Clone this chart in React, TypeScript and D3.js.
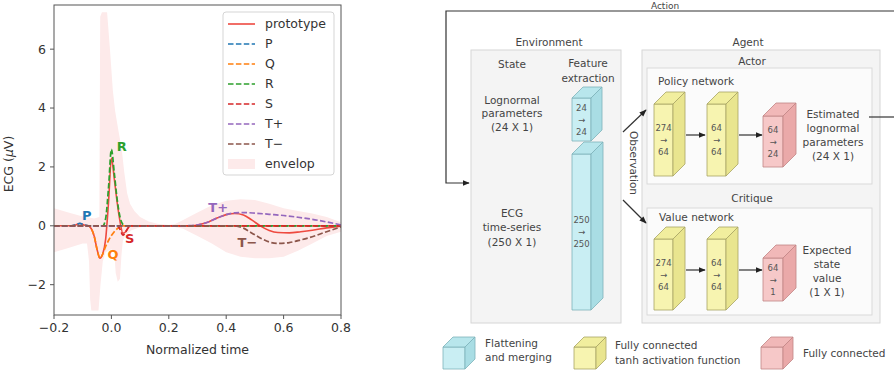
import * as d3 from "d3";

// ---- chart data ----
const xTicks = [-0.2, 0, 0.2, 0.4, 0.6, 0.8];
const yTicks = [-2, 0, 2, 4, 6];

type Pt = [number, number];

const prototypeCurve: Pt[] = [
  [-0.2, 0], [-0.14, 0], [-0.125, 0.03], [-0.11, 0.08], [-0.095, 0.03], [-0.08, 0],
  [-0.07, -0.1], [-0.06, -0.35], [-0.05, -0.8], [-0.04, -1.1], [-0.03, -0.95],
  [-0.02, -0.45], [-0.01, 0.8], [0, 2.3], [0.01, 1.6], [0.02, 0.8], [0.03, 0.15],
  [0.04, -0.25], [0.05, -0.2], [0.06, -0.05], [0.07, 0], [0.28, 0], [0.31, 0.05],
  [0.34, 0.14], [0.37, 0.27], [0.4, 0.38], [0.43, 0.42], [0.46, 0.37], [0.49, 0.19],
  [0.52, -0.01], [0.55, -0.16], [0.58, -0.23], [0.62, -0.24], [0.66, -0.2],
  [0.7, -0.15], [0.75, -0.07], [0.8, -0.01],
];
const pWave: Pt[] = [
  [-0.2, 0], [-0.14, 0], [-0.125, 0.03], [-0.11, 0.08], [-0.095, 0.03], [-0.08, 0], [0.8, 0],
];
const qWave: Pt[] = [
  [-0.2, 0], [-0.08, 0], [-0.07, -0.1], [-0.06, -0.35], [-0.05, -0.8], [-0.04, -1.1],
  [-0.03, -0.95], [-0.02, -0.7], [-0.01, -0.5], [0, -0.33], [0.01, -0.2], [0.02, -0.1],
  [0.03, -0.03], [0.04, 0], [0.8, 0],
];
const rWave: Pt[] = [
  [-0.2, 0], [-0.03, 0], [-0.02, 0.25], [-0.01, 1.3], [0, 2.6], [0.01, 1.8],
  [0.02, 0.9], [0.03, 0.3], [0.04, 0.05], [0.05, 0], [0.8, 0],
];
const sWave: Pt[] = [
  [-0.2, 0], [0.02, 0], [0.03, -0.12], [0.04, -0.32], [0.05, -0.2], [0.06, -0.05], [0.07, 0], [0.8, 0],
];
const tPlusWave: Pt[] = [
  [-0.2, 0], [0.25, 0], [0.28, 0.01], [0.31, 0.05], [0.34, 0.14], [0.37, 0.27], [0.4, 0.38],
  [0.43, 0.44], [0.46, 0.45], [0.5, 0.43], [0.55, 0.39], [0.6, 0.35], [0.65, 0.29],
  [0.7, 0.22], [0.75, 0.13], [0.8, 0.03],
];
const tMinusWave: Pt[] = [
  [-0.2, 0], [0.43, 0], [0.46, -0.08], [0.49, -0.25], [0.52, -0.42], [0.55, -0.55],
  [0.58, -0.6], [0.62, -0.57], [0.66, -0.48], [0.7, -0.37], [0.75, -0.2], [0.8, -0.04],
];
const envelopUpper: Pt[] = [
  [-0.2, 0.6], [-0.15, 0.45], [-0.1, 0.32], [-0.06, 0.25], [-0.042, 0.3], [-0.039, 7.1],
  [-0.033, 7.25], [-0.015, 7.25], [-0.005, 6.0], [0.005, 4.6], [0.013, 3.9], [0.025, 3.2],
  [0.036, 2.6], [0.045, 1.8], [0.055, 1.1], [0.065, 0.75], [0.08, 0.5], [0.1, 0.3],
  [0.13, 0.15], [0.16, 0.07], [0.2, 0.03], [0.22, 0.05], [0.25, 0.2], [0.3, 0.45],
  [0.35, 0.7], [0.4, 0.85], [0.45, 0.9], [0.5, 0.88], [0.55, 0.75], [0.6, 0.6],
  [0.65, 0.5], [0.7, 0.42], [0.75, 0.3], [0.8, 0.12],
];
const envelopLower: Pt[] = [
  [-0.2, -0.9], [-0.15, -0.75], [-0.1, -0.6], [-0.085, -0.6], [-0.078, -1.2], [-0.074, -2.5],
  [-0.07, -2.88], [-0.045, -2.88], [-0.038, -2.0], [-0.03, -1.2], [-0.02, -0.9],
  [-0.01, -0.85], [0, -0.8], [0.01, -0.9], [0.015, -1.6], [0.022, -1.9], [0.03, -1.8],
  [0.035, -1.0], [0.04, -0.5], [0.05, -0.3], [0.07, -0.15], [0.1, -0.05], [0.15, 0],
  [0.2, 0], [0.25, -0.1], [0.3, -0.35], [0.35, -0.6], [0.4, -0.9], [0.45, -1.05],
  [0.5, -1.1], [0.55, -1.1], [0.6, -1.05], [0.65, -0.85], [0.7, -0.6], [0.75, -0.35], [0.8, -0.2],
];

const series = [
  { name: "prototype", data: prototypeCurve, color: "#ee4a40", dashed: false },
  { name: "P", data: pWave, color: "#1f77b4", dashed: true },
  { name: "Q", data: qWave, color: "#ff7f0e", dashed: true },
  { name: "R", data: rWave, color: "#2ca02c", dashed: true },
  { name: "S", data: sWave, color: "#d62728", dashed: true },
  { name: "T+", data: tPlusWave, color: "#9467bd", dashed: true },
  { name: "T\u2212", data: tMinusWave, color: "#8c564b", dashed: true },
];

const waveLabels = [
  { text: "P", t: -0.086, v: 0.34, color: "#1f77b4" },
  { text: "Q", t: 0.006, v: -0.97, color: "#ff7f0e" },
  { text: "R", t: 0.036, v: 2.7, color: "#2ca02c" },
  { text: "S", t: 0.064, v: -0.44, color: "#d62728" },
  { text: "T+", t: 0.372, v: 0.64, color: "#9467bd" },
  { text: "T\u2212", t: 0.474, v: -0.55, color: "#8c564b" },
];

// ---- diagram blocks ----
const cubes = [
  { x: 572, y: 98, w: 19, h: 43, d: 11, kind: "cyan", lines: ["24", "\u2192", "24"] },
  { x: 572, y: 154, w: 19, h: 156, d: 12, kind: "cyan", lines: ["250", "\u2192", "250"] },
  { x: 654, y: 104, w: 19, h: 72, d: 12, kind: "yellow", lines: ["274", "\u2192", "64"] },
  { x: 707, y: 104, w: 19, h: 72, d: 12, kind: "yellow", lines: ["64", "\u2192", "64"] },
  { x: 763, y: 116, w: 20, h: 51, d: 13, kind: "pink", lines: ["64", "\u2192", "24"] },
  { x: 654, y: 239, w: 19, h: 71, d: 12, kind: "yellow", lines: ["274", "\u2192", "64"] },
  { x: 707, y: 239, w: 19, h: 71, d: 12, kind: "yellow", lines: ["64", "\u2192", "64"] },
  { x: 763, y: 258, w: 20, h: 43, d: 13, kind: "pink", lines: ["64", "\u2192", "1"] },
  { x: 443, y: 347, w: 22, h: 22, d: 10, kind: "cyan", lines: [] },
  { x: 574, y: 347, w: 22, h: 22, d: 10, kind: "yellow", lines: [] },
  { x: 761, y: 347, w: 22, h: 22, d: 10, kind: "pink", lines: [] },
];

const palette: Record<string, { front: string; top: string; side: string; stroke: string }> = {
  cyan: { front: "#c9eef3", top: "#b8e6ec", side: "#a9dde4", stroke: "#7db3ba" },
  yellow: { front: "#f7f4b0", top: "#f1ee9e", side: "#e9e58f", stroke: "#a8a564" },
  pink: { front: "#f6c8c8", top: "#f1b8b8", side: "#eaa9a9", stroke: "#c28585" },
};

const blockTexts = [
  { text: "Environment", x: 549, y: 46, anchor: "middle" },
  { text: "Agent", x: 748, y: 46, anchor: "middle" },
  { text: "State", x: 512, y: 68, anchor: "middle" },
  { text: "Feature", x: 588, y: 67, anchor: "middle" },
  { text: "extraction", x: 588, y: 82, anchor: "middle" },
  { text: "Lognormal", x: 512, y: 104, anchor: "middle" },
  { text: "parameters", x: 512, y: 117, anchor: "middle" },
  { text: "(24 X 1)", x: 512, y: 131, anchor: "middle" },
  { text: "ECG", x: 512, y: 217, anchor: "middle" },
  { text: "time-series", x: 512, y: 231, anchor: "middle" },
  { text: "(250 X 1)", x: 512, y: 246, anchor: "middle" },
  { text: "Actor", x: 752, y: 65, anchor: "middle" },
  { text: "Policy network", x: 658, y: 85, anchor: "start" },
  { text: "Critique", x: 752, y: 202, anchor: "middle" },
  { text: "Value network", x: 659, y: 221, anchor: "start" },
  { text: "Estimated", x: 833, y: 118, anchor: "middle" },
  { text: "lognormal", x: 833, y: 132, anchor: "middle" },
  { text: "parameters", x: 833, y: 146, anchor: "middle" },
  { text: "(24 X 1)", x: 833, y: 160, anchor: "middle" },
  { text: "Expected", x: 827, y: 254, anchor: "middle" },
  { text: "state", x: 827, y: 268, anchor: "middle" },
  { text: "value", x: 827, y: 282, anchor: "middle" },
  { text: "(1 X 1)", x: 827, y: 296, anchor: "middle" },
  { text: "Flattening", x: 485, y: 347, anchor: "start" },
  { text: "and merging", x: 485, y: 361, anchor: "start" },
  { text: "Fully connected", x: 615, y: 349, anchor: "start" },
  { text: "tanh activation function", x: 615, y: 364, anchor: "start" },
  { text: "Fully connected", x: 803, y: 357, anchor: "start" },
];

function Cube({ c }: { c: (typeof cubes)[number] }) {
  const p = palette[c.kind];
  const { x, y, w, h, d } = c;
  const top = `${x},${y} ${x + d},${y - d} ${x + w + d},${y - d} ${x + w},${y}`;
  const side = `${x + w},${y} ${x + w + d},${y - d} ${x + w + d},${y + h - d} ${x + w},${y + h}`;
  const cx = x + w / 2;
  const cy = y + h / 2;
  return (
    <g stroke={p.stroke} strokeWidth={0.8} strokeLinejoin="round">
      <rect x={x} y={y} width={w} height={h} fill={p.front} />
      <polygon points={top} fill={p.top} />
      <polygon points={side} fill={p.side} />
      {c.lines.map((l, i) => (
        <text key={i} x={cx} y={cy + (i - 1) * 12 + 3} textAnchor="middle" fontSize={8.5}
          fill="#555" stroke="none">{l}</text>
      ))}
    </g>
  );
}

export default function App() {
  const W = 894, H = 371;
  const x = d3.scaleLinear().domain([-0.2, 0.8]).range([54, 341]);
  const y = d3.scaleLinear().domain([-3.03, 7.5]).range([315, 5]);
  const [x0, x1] = x.range();
  const [y0, y1] = y.range();

  const line = d3.line<Pt>().x(d => x(d[0])).y(d => y(d[1])).curve(d3.curveMonotoneX);
  const poly = d3.line<Pt>().x(d => x(d[0])).y(d => y(d[1]));
  const envPath = poly(envelopUpper.concat(envelopLower.slice().reverse())) + "Z";

  const font = "DejaVu Sans, sans-serif";
  const legendRow = (i: number) => 24 + i * 20;
  const envFill = "#fdeaea";

  return (
    <svg width={W} height={H} style={{ position: "absolute", left: 0, top: 0, background: "#fff" }}
      fontFamily={font}>
      <defs>
        <marker id="ah" viewBox="0 0 10 10" refX="9" refY="5" markerWidth="6" markerHeight="6"
          orient="auto-start-reverse">
          <path d="M0,1 L10,5 L0,9 z" fill="#222" />
        </marker>
        <clipPath id="plot">
          <rect x={x0} y={y1} width={x1 - x0} height={y0 - y1} />
        </clipPath>
      </defs>

      {/* ---------- ECG chart ---------- */}
      <g clipPath="url(#plot)">
        <path d={envPath} fill={envFill} stroke="none" />
        {series.map(s => (
          <path key={s.name} d={line(s.data) || ""} fill="none" stroke={s.color}
            strokeWidth={s.dashed ? 1.7 : 1.6} strokeDasharray={s.dashed ? "5.5,2.4" : undefined} />
        ))}
      </g>
      {waveLabels.map(l => (
        <text key={l.text} x={x(l.t)} y={y(l.v)} dy="0.35em" textAnchor="middle" fontSize={13}
          fontWeight="bold" fill={l.color}>{l.text}</text>
      ))}

      <rect x={x0} y={y1} width={x1 - x0} height={y0 - y1} fill="none" stroke="#555" strokeWidth={1} />
      {xTicks.map(t => (
        <g key={t}>
          <line x1={x(t)} x2={x(t)} y1={y0} y2={y0 + 4} stroke="#555" />
          <text x={x(t)} y={y0 + 17} textAnchor="middle" fontSize={12.5} fill="#333">
            {d3.format(".1f")(t).replace("-", "\u2212")}
          </text>
        </g>
      ))}
      {yTicks.map(t => (
        <g key={t}>
          <line x1={x0 - 4} x2={x0} y1={y(t)} y2={y(t)} stroke="#555" />
          <text x={x0 - 8} y={y(t)} dy="0.35em" textAnchor="end" fontSize={12.5} fill="#333">
            {String(t).replace("-", "\u2212")}
          </text>
        </g>
      ))}
      <text x={(x0 + x1) / 2} y={354} textAnchor="middle" fontSize={12.5} fill="#333">Normalized time</text>
      <text transform={`translate(13,${(y0 + y1) / 2 + 4}) rotate(-90)`} textAnchor="middle" fontSize={12.5}
        fill="#333">ECG (<tspan fontStyle="italic">μ</tspan>V)</text>

      {/* legend */}
      <rect x={223} y={12} width={111} height={163} rx={3} fill="#fff" fillOpacity={0.85}
        stroke="#d5d5d5" />
      {series.map((s, i) => (
        <g key={s.name}>
          <line x1={228} x2={255} y1={legendRow(i)} y2={legendRow(i)} stroke={s.color}
            strokeWidth={s.dashed ? 1.7 : 1.6} strokeDasharray={s.dashed ? "5.5,2.4" : undefined} />
          <text x={265} y={legendRow(i)} dy="0.35em" fontSize={12.5} fill="#333">{s.name}</text>
        </g>
      ))}
      <rect x={228} y={legendRow(7) - 5} width={27} height={10} fill={envFill} />
      <text x={265} y={legendRow(7)} dy="0.35em" fontSize={12.5} fill="#333">envelop</text>

      {/* ---------- RL diagram ---------- */}
      <rect x={471} y={50} width={150} height={273} fill="#f4f4f4" stroke="#d6d6d6" />
      <rect x={642} y={50} width={238} height={273} fill="#f4f4f4" stroke="#d6d6d6" />
      <rect x={647} y={68} width={225} height={116} fill="#fbfbfb" stroke="#d9d9d9" />
      <rect x={647} y={208} width={225} height={107} fill="#fbfbfb" stroke="#d9d9d9" />

      <g stroke="#333" strokeWidth={1.2} fill="none">
        <polyline points="894,11 446,11 446,183 469,183" markerEnd="url(#ah)" />
        <line x1={869} y1={117} x2={894} y2={117} />
        <line x1={623} y1={132} x2={646} y2={110} markerEnd="url(#ah)" />
        <line x1={623} y1={200} x2={646} y2={223} markerEnd="url(#ah)" />
        <line x1={686} y1={135} x2={705} y2={135} markerEnd="url(#ah)" />
        <line x1={739} y1={135} x2={762} y2={135} markerEnd="url(#ah)" />
        <line x1={686} y1={270} x2={705} y2={270} markerEnd="url(#ah)" />
        <line x1={739} y1={270} x2={762} y2={270} markerEnd="url(#ah)" />
      </g>

      {cubes.map((c, i) => <Cube key={i} c={c} />)}

      {blockTexts.map((t, i) => (
        <text key={i} x={t.x} y={t.y} textAnchor={t.anchor} fontSize={10.5} fill="#444">{t.text}</text>
      ))}
      <text x={665} y={9} textAnchor="middle" fontSize={9} fill="#444">Action</text>
      <text transform="translate(634,163) rotate(90)" textAnchor="middle" dy="0.35em" fontSize={10.5}
        fill="#444">Observation</text>
    </svg>
  );
}
